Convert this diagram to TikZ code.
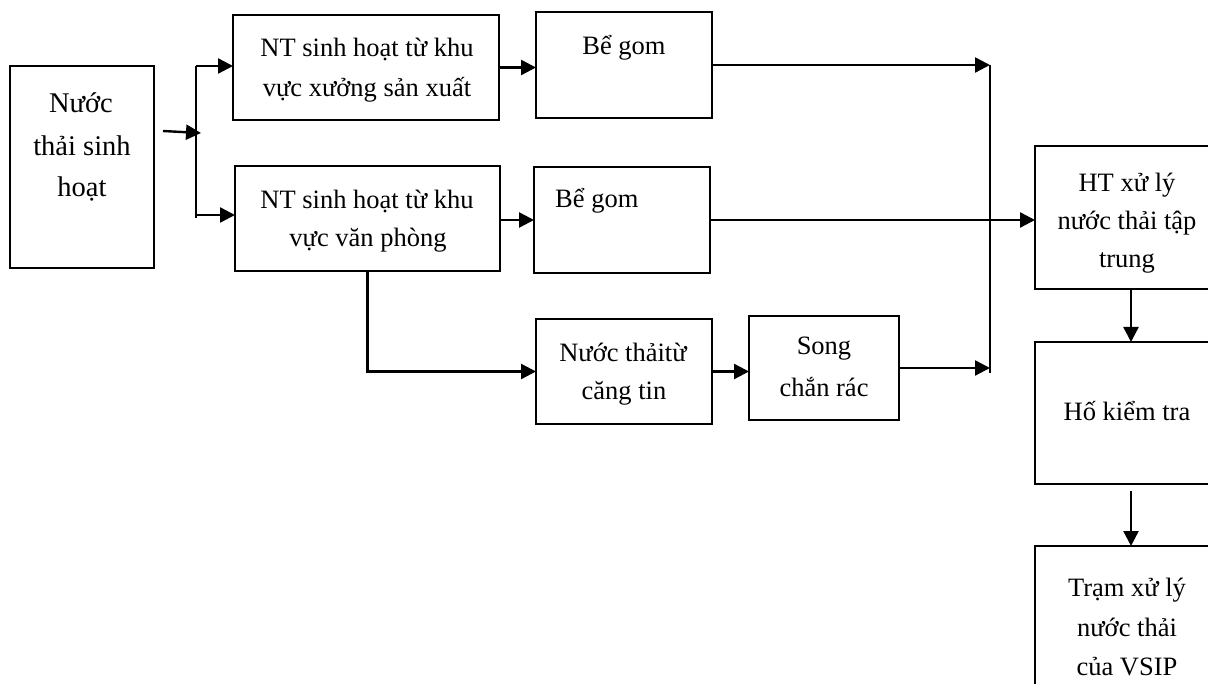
\documentclass[tikz,border=0pt]{standalone}
\usepackage{fontspec}
\setmainfont{Liberation Serif}
\usetikzlibrary{arrows.meta}
\begin{document}
\begin{tikzpicture}[x=1pt,y=-1pt,
  box/.style={draw, line width=2.2pt, inner sep=0pt, outer sep=0pt},
  txt/.style={anchor=base, inner sep=0pt, font=\fontsize{26.5}{39}\selectfont},
  bigtxt/.style={txt, font=\fontsize{28.5}{42}\selectfont},
  link/.style={line width=2.4pt},
  arr/.style={link, -{Triangle[length=15pt,width=15pt]}}]
\clip (0,0) rectangle (1208,684);

% boxes
\node[box, minimum width=144, minimum height=202] (src)  at (82,167) {};
\node[box, minimum width=266, minimum height=105] (ws)   at (366,67.5) {};
\node[box, minimum width=176, minimum height=106] (bg1)  at (624,65) {};
\node[box, minimum width=265, minimum height=105] (of)   at (367.5,218.5) {};
\node[box, minimum width=176, minimum height=106] (bg2)  at (622,220) {};
\node[box, minimum width=176, minimum height=105] (cant) at (624,371.5) {};
\node[box, minimum width=150, minimum height=104] (scr)  at (824,368) {};
\node[box, minimum width=192, minimum height=143] (ht)   at (1131,217.5) {};
\node[box, minimum width=192, minimum height=142] (hk)   at (1131,413) {};
\node[box, minimum width=192, minimum height=174] (tr)   at (1131,633) {};

% labels
\node[bigtxt] (src1) at (81,113) {Nước};
\node[bigtxt] (src2) at (82,156) {thải sinh};
\node[bigtxt] (src3) at (82,197) {hoạt};
\node[txt] (ws1) at (367,57) {NT sinh hoạt từ khu};
\node[txt] (ws2) at (367,97) {vực xưởng sản xuất};
\node[txt] (bg1t) at (624,55) {Bể gom};
\node[txt] (of1) at (367,209) {NT sinh hoạt từ khu};
\node[txt] (of2) at (368,247) {vực văn phòng};
\node[txt, anchor=base west] (bg2t) at (555,208) {Bể gom};
\node[txt] (cant1) at (623,362) {Nước thảitừ};
\node[txt] (cant2) at (624,400) {căng tin};
\node[txt] (scr1) at (824,355) {Song};
\node[txt] (scr2) at (824,397) {chắn rác};
\node[txt] (ht1) at (1127,192) {HT xử lý};
\node[txt] (ht2) at (1127,230) {nước thải tập};
\node[txt] (ht3) at (1127,268) {trung};
\node[txt] (hk1) at (1127,421) {Hố kiểm tra};
\node[txt] (tr1) at (1127,596) {Trạm xử lý};
\node[txt] (tr2) at (1127,636) {nước thải};
\node[txt] (tr3) at (1127,675) {của VSIP};

% splitting point after the source
\coordinate (aout) at (163,131);
\coordinate (split) at (201,133);
\coordinate (stop) at (196,66);
\coordinate (sbot) at (196,218);
\coordinate (sbr) at (196,215);
\draw[arr] (aout) -- (split);
\draw[link] (stop) -- (sbot);
\draw[arr] (stop) -- (stop -| ws.west);
\draw[arr] (sbr) -- (sbr -| of.west);

% collector line before the treatment system
\coordinate (ctop) at (990,65);
\coordinate (cbot) at (990,373);
\draw[link] (ctop) -- (cbot);

% flows
\draw[arr] (ws.east) -- (ws.east -| bg1.west);
\draw[arr] (bg1.east) -- (ctop);
\draw[arr] (of.east |- bg2.west) -- (bg2.west);
\draw[arr] (bg2.east) -- (bg2.east -| ht.west);
\draw[arr] (of.south) |- (cant.west);
\draw[arr] (cant.east) -- (cant.east -| scr.west);
\draw[arr] (scr.east) -- (scr.east -| ctop);
\draw[arr] (ht.south) -- (hk.north);
\draw[arr] ([yshift=-7pt]hk.south) -- (tr.north);
\end{tikzpicture}
\end{document}
